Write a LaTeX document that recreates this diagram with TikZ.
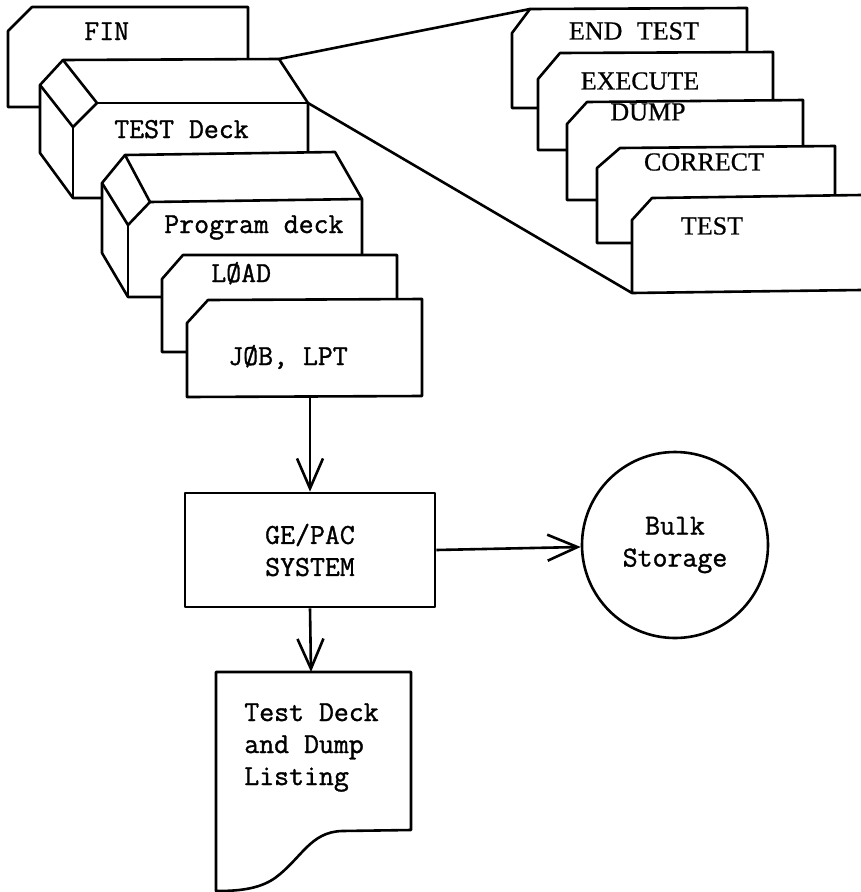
\documentclass[tikz,border=0pt]{standalone}
\usepackage{fontspec}
\newfontfamily\cardfont{Liberation Serif}[FakeBold=0.6]
\newfontfamily\typer{Latin Modern Mono}[FakeBold=1.2]
\usetikzlibrary{arrows.meta}

\begin{document}
\begin{tikzpicture}[x=1pt, y=-1pt, line width=2.6pt, line join=round,
          card/.style={draw, fill=white},
          tt/.style={font=\typer\fontsize{29}{32}\selectfont, inner sep=0pt},
          rm/.style={font=\cardfont\fontsize{26}{30}\selectfont, inner sep=0pt},
          flow/.style={-{Straight Barb[length=30pt, width=26pt]}}]
        \useasboundingbox (0,0) rectangle (861,892);
        % left stack, back to front
        \draw[card] (8,107) -- (8,31) -- (32,7) -- (248,7) -- (248,107) -- cycle;
        \node[tt, anchor=base west] (fin) at (83,40) {FIN};
        % TEST deck box
        \draw[card] (40,85) -- (63,60) -- (279,59) -- (308,103) -- (308,198)
              -- (73,198) -- (40,153) -- cycle;
        \draw (63,60) -- (97,103) -- (73,127) -- (40,85);
        \draw (97,103) -- (308,103); \draw (73,127) -- (73,198);
        \node[tt, anchor=base west] (testdeck) at (113,138) {TEST Deck};
        % program deck box
        \draw[card] (102,183) -- (125,155) -- (335,152) -- (362,199) -- (362,297)
              -- (128,297) -- (102,253) -- cycle;
        \draw (125,155) -- (150,202) -- (128,225) -- (102,183);
        \draw (150,202) -- (362,199); \draw (128,225) -- (128,297);
        \node[tt, anchor=base west] (progdeck) at (163,233) {Program deck};
        \draw[card] (162,352) -- (162,279) -- (183,255) -- (397,255) -- (397,352) -- cycle;
        \node[tt, anchor=base west] (load) at (210,282) {LØAD};
        \draw[card] (187,397) -- (187,323) -- (208,300) -- (422,299) -- (422,396) -- cycle;
        \node[tt, anchor=base west] (job) at (227,365) {JØB, LPT};
        \coordinate (job-s) at (310,397);
        % test deck spread out on the right
        \draw (279,59) -- (530,9);
        \draw (308,103) -- (632,293);
        \draw[card] (512,108) -- (512,33) -- (530,9) -- (747,8) -- (747,108) -- cycle;
        \node[rm] (endtest) at (634,31) {END\hspace{8pt} TEST};
        \draw[card] (538,150) -- (538,79) -- (560,53) -- (773,52) -- (773,150) -- cycle;
        \node[rm] (execute) at (640,81) {EXECUTE};
        \draw[card] (567,200) -- (567,124) -- (587,102) -- (803,100) -- (803,200) -- cycle;
        \node[rm] (dump) at (648,112) {DUMP};
        \draw[card] (597,243) -- (597,168) -- (620,148) -- (835,146) -- (835,243) -- cycle;
        \node[rm] (correct) at (704,162) {CORRECT};
        \draw[card] (861,195) -- (652,198) -- (632,220) -- (632,293) -- (861,290);
        \node[rm] (test) at (712,226) {TEST};
        % processing
        \node[tt, draw, rectangle, align=center, minimum width=250pt, minimum height=114pt]
              (gepac) at (310,550) {GE/PAC\\SYSTEM};
        \node[tt, draw, circle, align=center, minimum size=186pt]
              (bulk) at (675,545) {Bulk\\Storage};
        \draw[card] (216,672) -- (411,672) -- (411,830) -- (342,831)
              .. controls (310,832) and (302,858) .. (275,878)
              .. controls (258,890) and (235,891) .. (216,891) -- cycle;
        \coordinate (doc-n) at (311,672);
        \node[tt, align=left, anchor=north west] (listing) at (243,702)
              {Test Deck\\and Dump\\Listing};
        \draw[flow] (job-s) -- (gepac.north);
        \draw[flow] (gepac.south) -- (doc-n);
        \draw[flow] (gepac.east) -- (bulk);
      \end{tikzpicture}
\end{document}
